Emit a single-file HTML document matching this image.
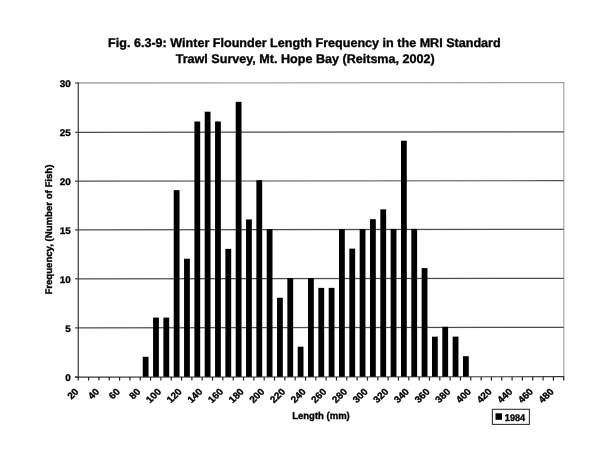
<!DOCTYPE html>
<html><head><meta charset="utf-8"><title>Fig. 6.3-9</title>
<style>
html,body{margin:0;padding:0;background:#fff;}
svg{display:block;}
text{text-rendering:geometricPrecision;font-family:"Liberation Sans",Arial,sans-serif;font-weight:bold;fill:#000;stroke:#000;stroke-width:0.35px;}
</style></head><body>
<svg width="600" height="459" viewBox="0 0 600 459">
<rect x="0" y="0" width="600" height="459" fill="#fff"/>
<text x="108.1" y="46.6" font-size="12.4" textLength="392.6" lengthAdjust="spacingAndGlyphs">Fig. 6.3-9: Winter Flounder Length Frequency in the MRI Standard</text>
<text x="175.7" y="62.7" font-size="12.4" textLength="259" lengthAdjust="spacingAndGlyphs">Trawl Survey, Mt. Hope Bay (Reitsma, 2002)</text>
<line x1="563.75" y1="82.1" x2="563.75" y2="377.0" stroke="#b4b4b4" stroke-width="1.4"/>
<line x1="78.25" y1="83.0" x2="564.45" y2="82.65" stroke="#a4a4a4" stroke-width="1.3"/>
<line x1="78.25" y1="327.90" x2="563.75" y2="327.40" stroke="#4c4c4c" stroke-width="1.2"/>
<line x1="78.25" y1="278.80" x2="563.75" y2="278.30" stroke="#4c4c4c" stroke-width="1.2"/>
<line x1="78.25" y1="229.90" x2="563.75" y2="229.40" stroke="#4c4c4c" stroke-width="1.2"/>
<line x1="78.25" y1="181.20" x2="563.75" y2="180.70" stroke="#4c4c4c" stroke-width="1.2"/>
<line x1="78.25" y1="132.30" x2="563.75" y2="131.80" stroke="#4c4c4c" stroke-width="1.2"/>
<rect x="142.74" y="356.80" width="5.8" height="20.20" fill="#000"/>
<rect x="153.07" y="317.58" width="5.8" height="59.42" fill="#000"/>
<rect x="163.40" y="317.57" width="5.8" height="59.43" fill="#000"/>
<rect x="173.73" y="190.15" width="5.8" height="186.85" fill="#000"/>
<rect x="184.06" y="258.73" width="5.8" height="118.27" fill="#000"/>
<rect x="194.39" y="121.51" width="5.8" height="255.49" fill="#000"/>
<rect x="204.72" y="111.69" width="5.8" height="265.31" fill="#000"/>
<rect x="215.05" y="121.47" width="5.8" height="255.53" fill="#000"/>
<rect x="225.38" y="248.85" width="5.8" height="128.15" fill="#000"/>
<rect x="235.71" y="101.83" width="5.8" height="275.17" fill="#000"/>
<rect x="246.04" y="219.41" width="5.8" height="157.59" fill="#000"/>
<rect x="256.37" y="180.19" width="5.8" height="196.81" fill="#000"/>
<rect x="266.70" y="229.17" width="5.8" height="147.83" fill="#000"/>
<rect x="277.03" y="297.75" width="5.8" height="79.25" fill="#000"/>
<rect x="287.36" y="278.13" width="5.8" height="98.87" fill="#000"/>
<rect x="297.69" y="346.71" width="5.8" height="30.29" fill="#000"/>
<rect x="308.02" y="278.09" width="5.8" height="98.91" fill="#000"/>
<rect x="318.35" y="287.87" width="5.8" height="89.13" fill="#000"/>
<rect x="328.68" y="287.86" width="5.8" height="89.14" fill="#000"/>
<rect x="339.01" y="229.04" width="5.8" height="147.96" fill="#000"/>
<rect x="349.34" y="248.62" width="5.8" height="128.38" fill="#000"/>
<rect x="359.67" y="229.00" width="5.8" height="148.00" fill="#000"/>
<rect x="370.00" y="219.18" width="5.8" height="157.82" fill="#000"/>
<rect x="380.33" y="209.36" width="5.8" height="167.64" fill="#000"/>
<rect x="390.66" y="228.94" width="5.8" height="148.06" fill="#000"/>
<rect x="400.99" y="140.72" width="5.8" height="236.28" fill="#000"/>
<rect x="411.32" y="228.90" width="5.8" height="148.10" fill="#000"/>
<rect x="421.65" y="268.08" width="5.8" height="108.92" fill="#000"/>
<rect x="431.98" y="336.66" width="5.8" height="40.34" fill="#000"/>
<rect x="442.31" y="326.84" width="5.8" height="50.16" fill="#000"/>
<rect x="452.64" y="336.62" width="5.8" height="40.38" fill="#000"/>
<rect x="462.97" y="356.20" width="5.8" height="20.80" fill="#000"/>
<line x1="78.25" y1="82.5" x2="78.25" y2="377.5" stroke="#333" stroke-width="1.2"/>
<line x1="74.95" y1="377.2" x2="564.25" y2="376.7" stroke="#333" stroke-width="1.2"/>
<line x1="74.95" y1="377.00" x2="78.25" y2="377.00" stroke="#333" stroke-width="1.1"/>
<text font-size="9.6" text-anchor="end" transform="translate(70.8,380.70) scale(1.03,1)">0</text>
<line x1="74.95" y1="327.90" x2="78.25" y2="327.90" stroke="#333" stroke-width="1.1"/>
<text font-size="9.6" text-anchor="end" transform="translate(70.8,331.60) scale(1.03,1)">5</text>
<line x1="74.95" y1="278.80" x2="78.25" y2="278.80" stroke="#333" stroke-width="1.1"/>
<text font-size="9.6" text-anchor="end" transform="translate(70.8,282.50) scale(1.03,1)">10</text>
<line x1="74.95" y1="229.90" x2="78.25" y2="229.90" stroke="#333" stroke-width="1.1"/>
<text font-size="9.6" text-anchor="end" transform="translate(70.8,233.60) scale(1.03,1)">15</text>
<line x1="74.95" y1="181.20" x2="78.25" y2="181.20" stroke="#333" stroke-width="1.1"/>
<text font-size="9.6" text-anchor="end" transform="translate(70.8,184.90) scale(1.03,1)">20</text>
<line x1="74.95" y1="132.30" x2="78.25" y2="132.30" stroke="#333" stroke-width="1.1"/>
<text font-size="9.6" text-anchor="end" transform="translate(70.8,136.00) scale(1.03,1)">25</text>
<line x1="74.95" y1="83.00" x2="78.25" y2="83.00" stroke="#333" stroke-width="1.1"/>
<text font-size="9.6" text-anchor="end" transform="translate(70.8,86.70) scale(1.03,1)">30</text>
<line x1="78.25" y1="377.0" x2="78.25" y2="380.6" stroke="#222" stroke-width="1.2"/>
<line x1="88.58" y1="377.0" x2="88.58" y2="380.6" stroke="#222" stroke-width="1.2"/>
<line x1="98.91" y1="377.0" x2="98.91" y2="380.6" stroke="#222" stroke-width="1.2"/>
<line x1="109.24" y1="377.0" x2="109.24" y2="380.6" stroke="#222" stroke-width="1.2"/>
<line x1="119.57" y1="377.0" x2="119.57" y2="380.6" stroke="#222" stroke-width="1.2"/>
<line x1="129.90" y1="377.0" x2="129.90" y2="380.6" stroke="#222" stroke-width="1.2"/>
<line x1="140.23" y1="377.0" x2="140.23" y2="380.6" stroke="#222" stroke-width="1.2"/>
<line x1="150.56" y1="377.0" x2="150.56" y2="380.6" stroke="#222" stroke-width="1.2"/>
<line x1="160.89" y1="377.0" x2="160.89" y2="380.6" stroke="#222" stroke-width="1.2"/>
<line x1="171.22" y1="377.0" x2="171.22" y2="380.6" stroke="#222" stroke-width="1.2"/>
<line x1="181.55" y1="377.0" x2="181.55" y2="380.6" stroke="#222" stroke-width="1.2"/>
<line x1="191.88" y1="377.0" x2="191.88" y2="380.6" stroke="#222" stroke-width="1.2"/>
<line x1="202.21" y1="377.0" x2="202.21" y2="380.6" stroke="#222" stroke-width="1.2"/>
<line x1="212.54" y1="377.0" x2="212.54" y2="380.6" stroke="#222" stroke-width="1.2"/>
<line x1="222.87" y1="377.0" x2="222.87" y2="380.6" stroke="#222" stroke-width="1.2"/>
<line x1="233.20" y1="377.0" x2="233.20" y2="380.6" stroke="#222" stroke-width="1.2"/>
<line x1="243.53" y1="377.0" x2="243.53" y2="380.6" stroke="#222" stroke-width="1.2"/>
<line x1="253.86" y1="377.0" x2="253.86" y2="380.6" stroke="#222" stroke-width="1.2"/>
<line x1="264.19" y1="377.0" x2="264.19" y2="380.6" stroke="#222" stroke-width="1.2"/>
<line x1="274.52" y1="377.0" x2="274.52" y2="380.6" stroke="#222" stroke-width="1.2"/>
<line x1="284.85" y1="377.0" x2="284.85" y2="380.6" stroke="#222" stroke-width="1.2"/>
<line x1="295.18" y1="377.0" x2="295.18" y2="380.6" stroke="#222" stroke-width="1.2"/>
<line x1="305.51" y1="377.0" x2="305.51" y2="380.6" stroke="#222" stroke-width="1.2"/>
<line x1="315.84" y1="377.0" x2="315.84" y2="380.6" stroke="#222" stroke-width="1.2"/>
<line x1="326.16" y1="377.0" x2="326.16" y2="380.6" stroke="#222" stroke-width="1.2"/>
<line x1="336.49" y1="377.0" x2="336.49" y2="380.6" stroke="#222" stroke-width="1.2"/>
<line x1="346.82" y1="377.0" x2="346.82" y2="380.6" stroke="#222" stroke-width="1.2"/>
<line x1="357.15" y1="377.0" x2="357.15" y2="380.6" stroke="#222" stroke-width="1.2"/>
<line x1="367.48" y1="377.0" x2="367.48" y2="380.6" stroke="#222" stroke-width="1.2"/>
<line x1="377.81" y1="377.0" x2="377.81" y2="380.6" stroke="#222" stroke-width="1.2"/>
<line x1="388.14" y1="377.0" x2="388.14" y2="380.6" stroke="#222" stroke-width="1.2"/>
<line x1="398.47" y1="377.0" x2="398.47" y2="380.6" stroke="#222" stroke-width="1.2"/>
<line x1="408.80" y1="377.0" x2="408.80" y2="380.6" stroke="#222" stroke-width="1.2"/>
<line x1="419.13" y1="377.0" x2="419.13" y2="380.6" stroke="#222" stroke-width="1.2"/>
<line x1="429.46" y1="377.0" x2="429.46" y2="380.6" stroke="#222" stroke-width="1.2"/>
<line x1="439.79" y1="377.0" x2="439.79" y2="380.6" stroke="#222" stroke-width="1.2"/>
<line x1="450.12" y1="377.0" x2="450.12" y2="380.6" stroke="#222" stroke-width="1.2"/>
<line x1="460.45" y1="377.0" x2="460.45" y2="380.6" stroke="#222" stroke-width="1.2"/>
<line x1="470.78" y1="377.0" x2="470.78" y2="380.6" stroke="#222" stroke-width="1.2"/>
<line x1="481.11" y1="377.0" x2="481.11" y2="380.6" stroke="#222" stroke-width="1.2"/>
<line x1="491.44" y1="377.0" x2="491.44" y2="380.6" stroke="#222" stroke-width="1.2"/>
<line x1="501.77" y1="377.0" x2="501.77" y2="380.6" stroke="#222" stroke-width="1.2"/>
<line x1="512.10" y1="377.0" x2="512.10" y2="380.6" stroke="#222" stroke-width="1.2"/>
<line x1="522.43" y1="377.0" x2="522.43" y2="380.6" stroke="#222" stroke-width="1.2"/>
<line x1="532.76" y1="377.0" x2="532.76" y2="380.6" stroke="#222" stroke-width="1.2"/>
<line x1="543.09" y1="377.0" x2="543.09" y2="380.6" stroke="#222" stroke-width="1.2"/>
<line x1="553.42" y1="377.0" x2="553.42" y2="380.6" stroke="#222" stroke-width="1.2"/>
<line x1="563.75" y1="377.0" x2="563.75" y2="380.6" stroke="#222" stroke-width="1.2"/>
<text font-size="10" text-anchor="end" transform="translate(79.25,392.30) scale(1,0.94) rotate(-45)">20</text>
<text font-size="10" text-anchor="end" transform="translate(99.91,392.30) scale(1,0.94) rotate(-45)">40</text>
<text font-size="10" text-anchor="end" transform="translate(120.57,392.30) scale(1,0.94) rotate(-45)">60</text>
<text font-size="10" text-anchor="end" transform="translate(141.23,392.30) scale(1,0.94) rotate(-45)">80</text>
<text font-size="10" text-anchor="end" transform="translate(161.89,392.30) scale(1,0.94) rotate(-45)">100</text>
<text font-size="10" text-anchor="end" transform="translate(182.55,392.30) scale(1,0.94) rotate(-45)">120</text>
<text font-size="10" text-anchor="end" transform="translate(203.21,392.30) scale(1,0.94) rotate(-45)">140</text>
<text font-size="10" text-anchor="end" transform="translate(223.87,392.30) scale(1,0.94) rotate(-45)">160</text>
<text font-size="10" text-anchor="end" transform="translate(244.53,392.30) scale(1,0.94) rotate(-45)">180</text>
<text font-size="10" text-anchor="end" transform="translate(265.19,392.30) scale(1,0.94) rotate(-45)">200</text>
<text font-size="10" text-anchor="end" transform="translate(285.85,392.30) scale(1,0.94) rotate(-45)">220</text>
<text font-size="10" text-anchor="end" transform="translate(306.51,392.30) scale(1,0.94) rotate(-45)">240</text>
<text font-size="10" text-anchor="end" transform="translate(327.16,392.30) scale(1,0.94) rotate(-45)">260</text>
<text font-size="10" text-anchor="end" transform="translate(347.82,392.30) scale(1,0.94) rotate(-45)">280</text>
<text font-size="10" text-anchor="end" transform="translate(368.48,392.30) scale(1,0.94) rotate(-45)">300</text>
<text font-size="10" text-anchor="end" transform="translate(389.14,392.30) scale(1,0.94) rotate(-45)">320</text>
<text font-size="10" text-anchor="end" transform="translate(409.80,392.30) scale(1,0.94) rotate(-45)">340</text>
<text font-size="10" text-anchor="end" transform="translate(430.46,392.30) scale(1,0.94) rotate(-45)">360</text>
<text font-size="10" text-anchor="end" transform="translate(451.12,392.30) scale(1,0.94) rotate(-45)">380</text>
<text font-size="10" text-anchor="end" transform="translate(471.78,392.30) scale(1,0.94) rotate(-45)">400</text>
<text font-size="10" text-anchor="end" transform="translate(492.44,392.30) scale(1,0.94) rotate(-45)">420</text>
<text font-size="10" text-anchor="end" transform="translate(513.10,392.30) scale(1,0.94) rotate(-45)">440</text>
<text font-size="10" text-anchor="end" transform="translate(533.76,392.30) scale(1,0.94) rotate(-45)">460</text>
<text font-size="10" text-anchor="end" transform="translate(554.42,392.30) scale(1,0.94) rotate(-45)">480</text>
<text x="292.2" y="419.4" font-size="9.9" textLength="57.6" lengthAdjust="spacingAndGlyphs">Length (mm)</text>
<text font-size="9.6" stroke-width="0.2" textLength="130" lengthAdjust="spacingAndGlyphs" transform="translate(52.3,294.6) rotate(-90)">Frequency, (Number of Fish)</text>
<rect x="492.4" y="409.3" width="37" height="15.1" fill="#fff" stroke="#333" stroke-width="1.1"/>
<rect x="495.5" y="413.3" width="6.5" height="6.5" fill="#000"/>
<text x="504.8" y="420.9" font-size="9.8" textLength="20.4" lengthAdjust="spacingAndGlyphs">1984</text>
</svg>
</body></html>
